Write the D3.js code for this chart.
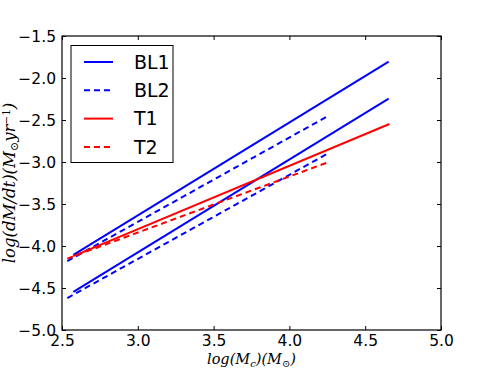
<!DOCTYPE html>
<html><head><meta charset="utf-8">
<script src="https://cdn.jsdelivr.net/npm/d3@7"></script>
<style>body{margin:0;background:#fff}</style>
</head><body>
<script>
// Data
const xTicks = [2.5, 3.0, 3.5, 4.0, 4.5, 5.0];
const yTicks = [-5.0, -4.5, -4.0, -3.5, -3.0, -2.5, -2.0, -1.5];
const bl1aX = [2.575, 4.655], bl1aY = [-4.105, -1.805];
const bl1bX = [2.575, 4.655], bl1bY = [-4.545, -2.245];
const bl2aX = [2.535, 4.255], bl2aY = [-4.18, -2.452];
const bl2bX = [2.535, 4.255], bl2bY = [-4.62, -2.897];
const t1X = [2.575, 4.66], t1Y = [-4.12, -2.548];
const t2X = [2.535, 4.255], t2Y = [-4.15, -3.003];
const legendLabels = ["BL1", "BL2", "T1", "T2"];

const series = [
  {x: bl1aX, y: bl1aY, c: "#0000ff", dash: null},
  {x: bl1bX, y: bl1bY, c: "#0000ff", dash: null},
  {x: bl2aX, y: bl2aY, c: "#0000ff", dash: "6,4"},
  {x: bl2bX, y: bl2bY, c: "#0000ff", dash: "6,4"},
  {x: t1X, y: t1Y, c: "#ff0000", dash: null},
  {x: t2X, y: t2Y, c: "#ff0000", dash: "6,4"}
];
const legendStyle = [
  {c: "#0000ff", dash: null}, {c: "#0000ff", dash: "6,4"},
  {c: "#ff0000", dash: null}, {c: "#ff0000", dash: "6,4"}
];

const W = 491, H = 368;
const L = 62, R = 441, T = 36, B = 330;
const svg = d3.select("body").append("svg").attr("width", W).attr("height", H);
const x = d3.scaleLinear().domain([2.5, 5.0]).range([L, R]);
const y = d3.scaleLinear().domain([-5.0, -1.5]).range([B, T]);
const fmt = v => d3.format(".1f")(v).replace("-", "\u2212");
const font = "DejaVu Sans";

svg.append("defs").append("clipPath").attr("id", "clip")
  .append("rect").attr("x", L).attr("y", T).attr("width", R - L).attr("height", B - T);

const g = svg.append("g").attr("clip-path", "url(#clip)");
series.forEach(s => {
  const pts = s.x.map((v, i) => [v, s.y[i]]);
  g.append("path").datum(pts)
    .attr("d", d3.line().x(d => x(d[0])).y(d => y(d[1])))
    .attr("fill", "none").attr("stroke", s.c).attr("stroke-width", 2)
    .attr("stroke-dasharray", s.dash);
});

const tl = 4;
const axB = svg.append("g").attr("transform", `translate(0,${B})`)
  .call(d3.axisBottom(x).tickValues(xTicks).tickFormat(fmt).tickSize(-tl).tickPadding(3));
const axT = svg.append("g").attr("transform", `translate(0,${T})`)
  .call(d3.axisTop(x).tickValues(xTicks).tickFormat("").tickSize(-tl));
const axL = svg.append("g").attr("transform", `translate(${L},0)`)
  .call(d3.axisLeft(y).tickValues(yTicks).tickFormat(fmt).tickSize(-tl).tickPadding(6));
const axR = svg.append("g").attr("transform", `translate(${R},0)`)
  .call(d3.axisRight(y).tickValues(yTicks).tickFormat("").tickSize(-tl));
[axB, axT, axL, axR].forEach(a => {
  a.select(".domain").remove();
  a.selectAll("line").attr("stroke", "#000").attr("stroke-width", 1);
  a.selectAll("text").attr("font-family", font).attr("font-size", 15.5).attr("fill", "#000");
});
axB.selectAll("text").attr("dy", "0.85em");
axL.selectAll("text").attr("dy", "0.36em");

svg.append("rect").attr("x", L).attr("y", T).attr("width", R - L).attr("height", B - T)
  .attr("fill", "none").attr("stroke", "#000").attr("stroke-width", 1.2);

const mathFont = "DejaVu Serif";
const xl = svg.append("text").attr("x", (L + R) / 2).attr("y", 363.5)
  .attr("text-anchor", "middle").attr("font-family", mathFont).attr("font-style", "italic")
  .attr("font-size", 14.5).attr("fill", "#000");
xl.append("tspan").text("log(M");
xl.append("tspan").attr("font-size", 10).attr("dy", 3).text("c");
xl.append("tspan").attr("dy", -3).text(")(M");
xl.append("tspan").attr("font-size", 10).attr("dy", 3).attr("font-style", "normal").text("\u2299");
xl.append("tspan").attr("dy", -3).text(")");

const yl = svg.append("text").attr("transform", `translate(15,${(T + B) / 2}) rotate(-90)`)
  .attr("text-anchor", "middle").attr("font-family", mathFont).attr("font-style", "italic")
  .attr("font-size", 16.5).attr("fill", "#000");
yl.append("tspan").text("log(dM/dt)(M");
yl.append("tspan").attr("font-size", 11).attr("dy", 3).attr("font-style", "normal").text("\u2299");
yl.append("tspan").attr("dy", -3).text("yr");
yl.append("tspan").attr("font-size", 10.5).attr("dy", -5).attr("font-style", "normal").text("\u22121");
yl.append("tspan").attr("dy", 5).text(")");

const lg = svg.append("g");
lg.append("rect").attr("x", 71).attr("y", 45.5).attr("width", 102).attr("height", 117)
  .attr("fill", "#fff").attr("stroke", "#000").attr("stroke-width", 1);
legendLabels.forEach((lab, i) => {
  const yy = 62 + i * 28.3;
  lg.append("line").attr("x1", 84).attr("x2", 113).attr("y1", yy).attr("y2", yy)
    .attr("stroke", legendStyle[i].c).attr("stroke-width", 2)
    .attr("stroke-dasharray", legendStyle[i].dash);
  lg.append("text").attr("x", 134).attr("y", yy).attr("dy", "0.36em")
    .attr("font-family", font).attr("font-size", 19).attr("fill", "#000").text(lab);
});
</script>
</body></html>
